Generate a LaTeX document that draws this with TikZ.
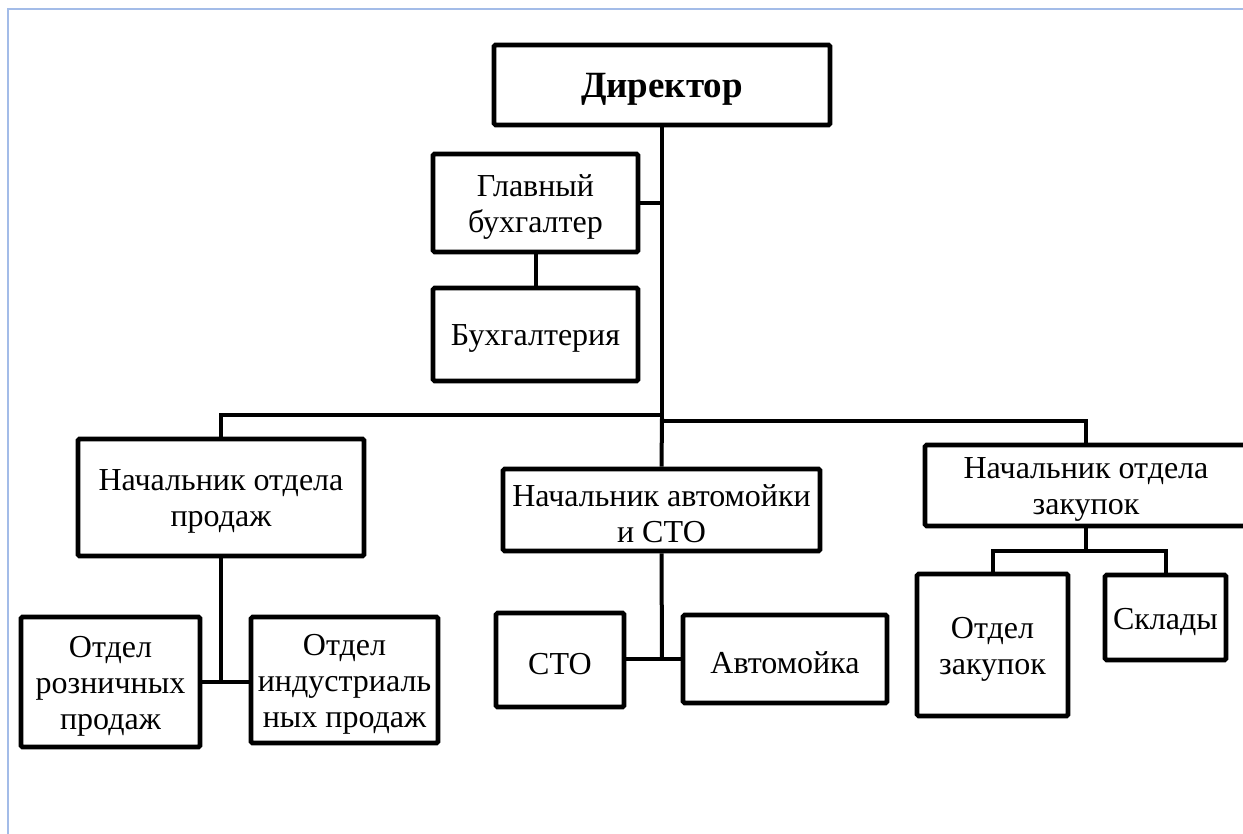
\documentclass[tikz,border=0pt]{standalone}
\usepackage{fontspec}
\setmainfont{Liberation Serif}
\begin{document}
\begin{tikzpicture}[x=1pt,y=-1pt,
  box/.style={draw=black, line width=4.6pt, rounded corners=1.5pt, fill=white, inner sep=0pt},
  txt/.style={align=center, inner sep=0pt, yshift=-4pt, font=\fontsize{32}{36}\selectfont},
  bigtxt/.style={txt, font=\bfseries\fontsize{37}{42}\selectfont},
  conn/.style={draw=black, line width=4pt},
  frameline/.style={draw={rgb,255:red,163;green,188;blue,232}, line width=2pt}]
\useasboundingbox (0,0) rectangle (1243,834);
\clip (0,0) rectangle (1243,834);
\fill[white] (0,0) rectangle (1243,834);
\draw[frameline] (7.5,834) -- (7.5,9.5) -- (1243,9.5);

% boxes
\node[box, minimum width=336, minimum height=80, label={[bigtxt]center:Директор}] (dir) at (662,85) {};
\node[box, minimum width=205, minimum height=98, label={[txt]center:{Главный\\бухгалтер}}] (glb) at (535.5,203) {};
\node[box, minimum width=205, minimum height=93, label={[txt]center:Бухгалтерия}] (buh) at (535.5,334.5) {};
\node[box, minimum width=286, minimum height=117, label={[txt]center:{Начальник отдела\\продаж}}] (nop) at (221,497.5) {};
\node[box, minimum width=179, minimum height=130, label={[txt]center:{Отдел\\розничных\\продаж}}] (roz) at (110.5,682) {};
\node[box, minimum width=187, minimum height=126, label={[txt]center:{Отдел\\индустриаль\\ных продаж}}] (ind) at (344.5,680) {};
\node[box, minimum width=317, minimum height=82, label={[txt]center:{Начальник автомойки\\и СТО}}] (nam) at (661.5,510) {};
\node[box, minimum width=128, minimum height=94, label={[txt]center:СТО}] (sto) at (560,660) {};
\node[box, minimum width=204, minimum height=88, label={[txt]center:Автомойка}] (avt) at (785,659) {};
\node[box, minimum width=322, minimum height=81, label={[txt]center:{Начальник отдела\\закупок}}] (nzk) at (1086,485.5) {};
\node[box, minimum width=151, minimum height=142, label={[txt]center:{Отдел\\закупок}}] (ozk) at (992.5,645) {};
\node[box, minimum width=121, minimum height=85, label={[txt]center:Склады}] (skl) at (1165.5,617.5) {};

% junction coordinates
\coordinate (busL) at (662,415);
\coordinate (busR) at (662,421);
\coordinate (busEnd) at (662,418);
\coordinate (j1) at (221,682);
\coordinate (j2) at (662,659);
\coordinate (j3) at (1086,551);

% connectors
\draw[conn] (dir.south) -- (busEnd);
\draw[conn] (glb.east) -- (glb.east -| dir.south);
\draw[conn] (glb.south) -- (buh.north);
\draw[conn] (busL) -- (busL -| nop.north) -- (nop.north);
\draw[conn] (busR) -- (busR -| nzk.north) -- (nzk.north);
\draw[conn] (busEnd) -- (nam.north);
\draw[conn] (nop.south) -- (j1);
\draw[conn] (roz.east |- j1) -- (ind.west |- j1);
\draw[conn] (nam.south) -- (j2);
\draw[conn] (sto.east |- j2) -- (avt.west |- j2);
\draw[conn] (nzk.south) -- (j3);
\draw[conn] (ozk.north) -- (ozk.north |- j3) -- (skl.north |- j3) -- (skl.north);
\end{tikzpicture}
\end{document}
